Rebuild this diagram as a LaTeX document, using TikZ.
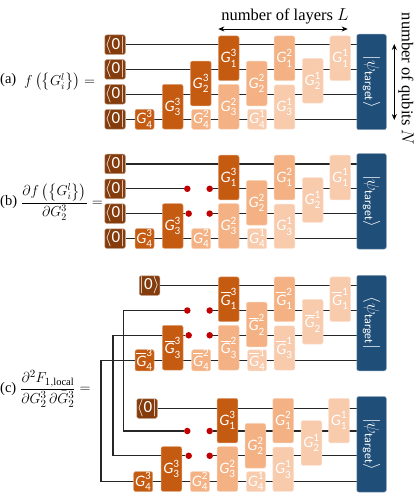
\documentclass[tikz,border=0pt]{standalone}
\usepackage{amsmath}
\usepackage{xcolor}
\usepackage{fontspec}
\setmainfont{Liberation Serif}
\setsansfont{Carlito}
\usepackage{tikz}
\usetikzlibrary{arrows.meta, positioning, backgrounds, calc}

\definecolor{gdark}{HTML}{C55A11}
\definecolor{gmid}{HTML}{F4B183}
\definecolor{glight}{HTML}{F8CBAD}
\definecolor{ginit}{HTML}{843C0C}
\definecolor{gtarget}{HTML}{1F4E79}
\definecolor{gdot}{HTML}{C00000}

\newcommand{\plaingate}[2]{\textit{G}$^{\mathsf{#2}}_{\mathsf{#1}}$}
\newcommand{\bargate}[2]{$\overline{\text{\textit{G}}}^{\mathsf{#2}}_{\mathsf{#1}}$}
\newcommand{\tket}{$|\psi_{\mathsf{target}}\rangle$}
\newcommand{\tbra}{$\langle\psi_{\mathsf{target}}|$}

\tikzset{
    gatebox/.style={draw=#1!55, fill=#1, rounded corners=2pt, line width=0.5pt, inner sep=0pt,
        text=white, font=\sffamily\fontsize{16}{17}\selectfont},
    initbox/.style={gatebox=ginit, minimum width=20.5pt, minimum height=19.5pt, font=\sffamily\fontsize{17}{18}\selectfont},
    targetbox/.style={gatebox=gtarget, minimum width=29.5pt, minimum height=95.5pt},
    wire/.style={line width=1.1pt, draw=black!85},
    gatedot/.style={circle, fill=gdot, minimum size=6.5pt, inner sep=0pt},
    note/.style={font=\fontsize{16.5}{18}\selectfont},
    labeltext/.style={anchor=west, inner sep=0pt, font=\fontsize{14.5}{16}\selectfont},
    eqtext/.style={anchor=west, inner sep=0pt},
    sizearrow/.style={{Stealth[length=6pt,width=5pt]}-{Stealth[length=6pt,width=5pt]}, line width=0.8pt}
}

\begin{document}
\begin{tikzpicture}[x=1pt, y=-1pt]
    \useasboundingbox (0,0) rectangle (415,494);

    % Gates and target of each circuit
    \foreach \p/\dx/\dy/\glab/\tlab in {a/0/0/\plaingate/\tket, b/0/119.3/\plaingate/\tket, u/0/241/\bargate/\tbra, l/-1.3/362.3/\plaingate/\tket} {
        \foreach \n/\x/\y/\w/\h/\c/\i/\v in {g43/144.5/119.3/19/20/gdark/4/3, g33/172.7/106.7/20.7/44.7/gdark/3/3, g13/228.7/58.3/20.7/44.7/gdark/1/3,
            g42/201.2/119.3/19/20/gmid/4/2, g32/228.7/106.7/20.7/44.7/gmid/3/2, g22/256.7/83.5/20.7/44.7/gmid/2/2, g12/284.5/58.3/20.7/44.7/gmid/1/2,
            g41/257.2/119.3/19/20/glight/4/1, g31/284.5/107/20.7/44.2/glight/3/1, g21/312.7/80.7/20.7/44.7/glight/2/1, g11/340.3/58.3/20.7/44.7/glight/1/1} {
            \node[gatebox=\c, minimum width=\w pt, minimum height=\h pt] (\p-\n) at (\x+\dx, \y+\dy) {\glab{\i}{\v}};
        }
        \node[targetbox] (\p-tgt) at (371.5, 82+\dy) {};
        \node[text=white, rotate=-90, font=\sffamily\fontsize{17}{18}\selectfont] (\p-tlab) at (\p-tgt) {\tlab};
    }
    \node[gatebox=gdark, minimum width=20.7pt, minimum height=44.7pt] (a-g23) at (200.8, 83.5) {\plaingate{2}{3}};

    % Input states
    \foreach \p/\dy in {a/0, b/119.3} {
        \foreach \i/\y in {1/44.7, 2/69.5, 3/94.3, 4/119.3} {
            \node[initbox] (\p-i\i) at (115, \y+\dy) {$\langle$0$|$};
        }
    }
    \node[initbox] (u-i1) at (149.5, 285.5) {$|$0$\rangle$};
    \node[initbox] (l-i1) at (147, 408.5) {$\langle$0$|$};

    % Cut points
    \foreach \p/\dy in {b/119.3, u/241, l/361.5} {
        \node[gatedot] (\p-dl2) at (187.3, 69.5+\dy) {};
        \node[gatedot] (\p-dr2) at (209.7, 69.5+\dy) {};
        \node[gatedot] (\p-dl3) at (188.7, 94.3+\dy) {};
        \node[gatedot] (\p-dr3) at (209.7, 94.3+\dy) {};
    }

    % Free corners of the joining lines
    \coordinate (bend2) at (123.3, 370);
    \coordinate (bend3) at (113, 395);
    \coordinate (u-w4) at (101, 360.3);
    \coordinate (l-w4) at (101, 481.6);

    % Wires
    \begin{pgfonlayer}{background}
        \foreach \p in {a,b,u,l} {
            \draw[wire] (\p-i1) -- (\p-i1 -| \p-tgt.west);
        }
        \foreach \i in {2,3,4} {
            \draw[wire] (a-i\i) -- (a-i\i -| a-tgt.west);
        }
        \draw[wire] (b-i4) -- (b-i4 -| b-tgt.west);
        \foreach \i in {2,3} {
            \draw[wire] (b-i\i) -- (b-dl\i);
        }
        \foreach \p in {b,u,l} {
            \draw[wire] (\p-dr2) -- (\p-dr2 -| \p-tgt.west);
            \draw[wire] (\p-dr3) -- (\p-dr3 -| \p-tgt.west);
        }
        \foreach \i in {2,3} {
            \draw[wire] (u-dl\i) -- (u-dl\i -| bend\i) -- (l-dl\i -| bend\i) -- (l-dl\i);
        }
        \draw[wire] (u-tgt.west |- u-w4) -- (u-w4) -- (l-w4) -- (l-tgt.west |- l-w4);
    \end{pgfonlayer}

    % Sizes of the circuit
    \coordinate (layl) at (218.3, 29);
    \coordinate (layr) at (347.7, 29);
    \draw[sizearrow] (layl) -- (layr);
    \node[note] (layers) at (285, 16.5) {number of layers $L$};
    \coordinate (qubt) at (394.3, 44);
    \coordinate (qubb) at (394.3, 120);
    \draw[sizearrow] (qubt) -- (qubb);
    \node[note, rotate=-90] (qubits) at (406, 79) {number of qubits $N$};

    % Equations
    \node[labeltext] (lab-a) at (0, 80) {(a)};
    \node[eqtext, font=\fontsize{14.5}{16}\selectfont] (eq-a) at (24, 82) {$f\left(\left\{G_i^l\right\}\right)=$};
    \node[labeltext] (lab-b) at (0, 202) {(b)};
    \node[eqtext, font=\fontsize{14}{16}\selectfont] (eq-b) at (21, 202) {$\dfrac{\partial f\left(\left\{G_i^l\right\}\right)}{\partial G_2^3}=$};
    \node[labeltext] (lab-c) at (0, 389) {(c)};
    \node[eqtext, font=\fontsize{15}{17}\selectfont] (eq-c) at (20, 389) {$\dfrac{\partial^2 F_{1,\mathrm{local}}}{\partial G_2^3\,\partial \bar{G}_2^3}=$};
\end{tikzpicture}
\end{document}
